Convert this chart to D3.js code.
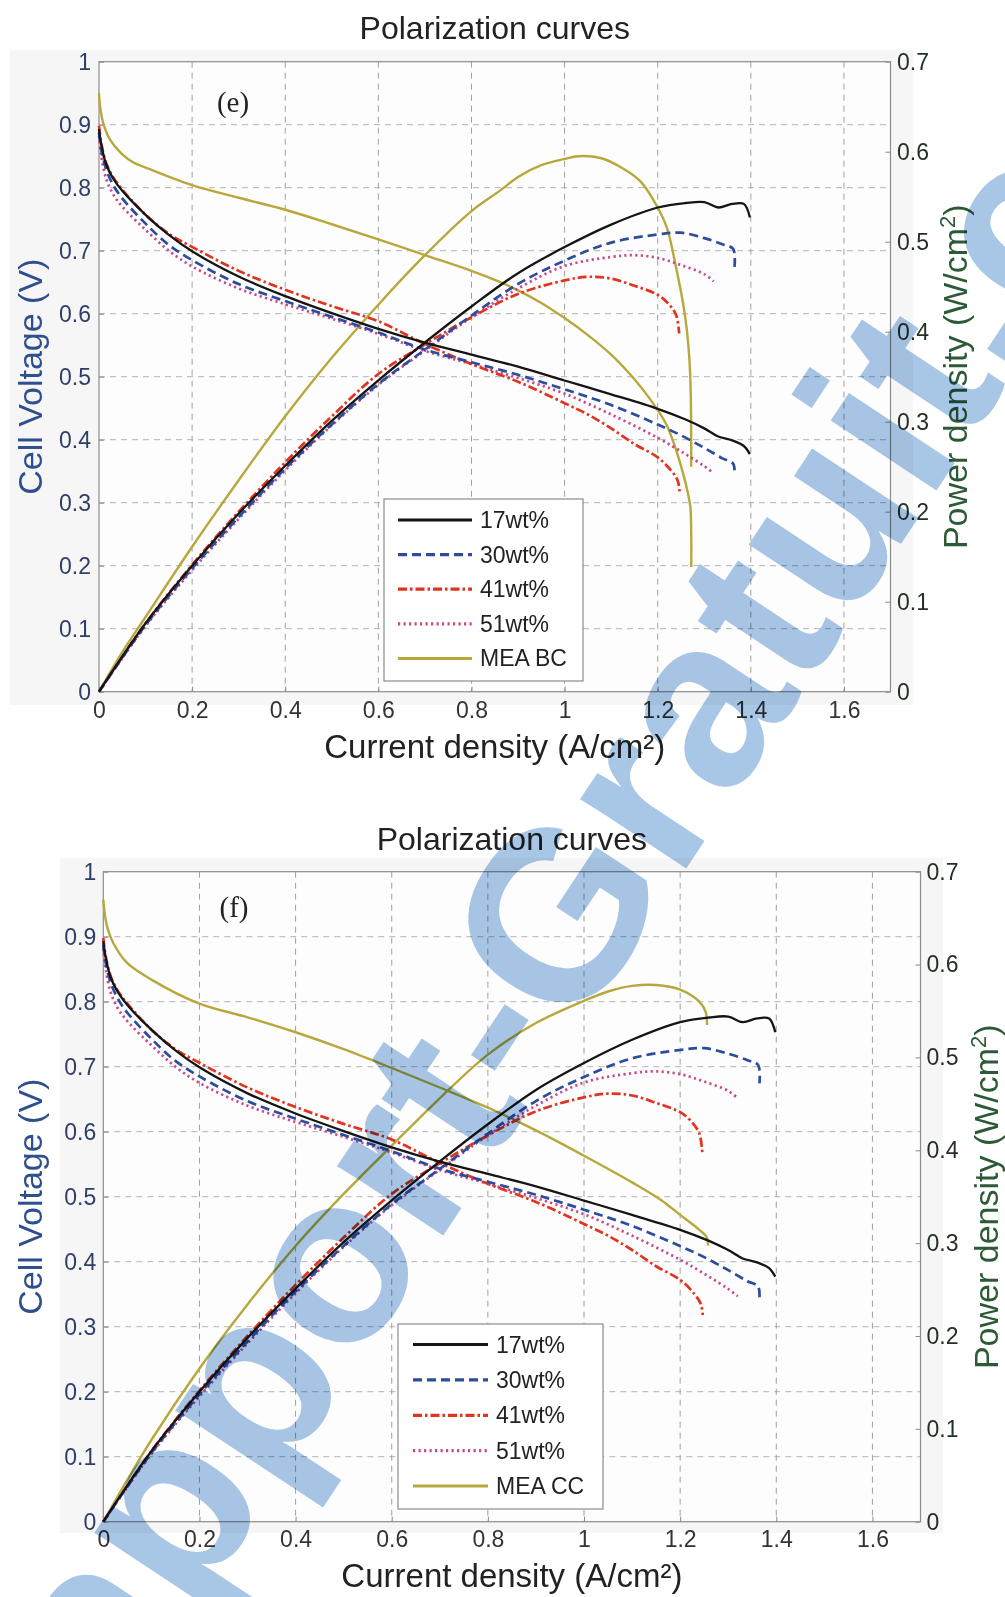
<!DOCTYPE html>
<html>
<head>
<meta charset="utf-8">
<script src="https://cdn.jsdelivr.net/npm/d3@7"></script>
<style>
  html, body { margin: 0; padding: 0; background: #fff; }
  svg { display: block; }
  text { font-family: "Liberation Sans", Arial, sans-serif; }
</style>
</head>
<body>
<svg id="fig" width="1005" height="1597"></svg>
<script>
// ---------- data: [current density (A/cm2), value] ----------
// cell voltage (V)
const wt17V = [[0,0.893],[0.005,0.868],[0.015,0.838],[0.03,0.815],[0.05,0.795],[0.1,0.757],[0.15,0.725],[0.2,0.699],[0.3,0.659],[0.4,0.628],[0.5,0.601],[0.6,0.576],[0.7,0.554],[0.8,0.535],[0.9,0.516],[1.0,0.494],[1.1,0.472],[1.2,0.449],[1.26,0.432],[1.3,0.418],[1.33,0.405],[1.36,0.399],[1.385,0.39],[1.398,0.377]];
const wt30V = [[0,0.887],[0.005,0.86],[0.015,0.83],[0.03,0.805],[0.05,0.783],[0.1,0.743],[0.15,0.709],[0.2,0.685],[0.3,0.647],[0.4,0.62],[0.5,0.595],[0.6,0.57],[0.7,0.543],[0.8,0.523],[0.9,0.503],[1.0,0.48],[1.1,0.455],[1.2,0.424],[1.25,0.407],[1.3,0.387],[1.34,0.37],[1.362,0.362],[1.365,0.345]];
const wt41V = [[0,0.898],[0.005,0.87],[0.015,0.84],[0.03,0.817],[0.05,0.797],[0.1,0.757],[0.15,0.727],[0.2,0.706],[0.3,0.668],[0.4,0.638],[0.5,0.612],[0.6,0.588],[0.7,0.552],[0.8,0.52],[0.9,0.492],[1.0,0.458],[1.05,0.44],[1.1,0.418],[1.15,0.393],[1.2,0.372],[1.23,0.35],[1.243,0.335],[1.247,0.318]];
const wt51V = [[0,0.882],[0.005,0.85],[0.015,0.815],[0.03,0.79],[0.05,0.77],[0.1,0.733],[0.15,0.7],[0.2,0.675],[0.3,0.64],[0.4,0.615],[0.5,0.592],[0.6,0.568],[0.7,0.541],[0.8,0.52],[0.9,0.498],[1.0,0.473],[1.1,0.44],[1.2,0.403],[1.26,0.377],[1.3,0.358],[1.32,0.347]];
const bcV = [[0,0.95],[0.003,0.925],[0.01,0.9],[0.024,0.876],[0.05,0.853],[0.074,0.84],[0.1,0.832],[0.2,0.804],[0.3,0.784],[0.4,0.765],[0.5,0.742],[0.6,0.718],[0.7,0.693],[0.8,0.668],[0.862,0.65],[0.9,0.637],[0.95,0.617],[1.0,0.593],[1.05,0.566],[1.1,0.535],[1.15,0.496],[1.178,0.47],[1.2,0.447],[1.22,0.422],[1.242,0.378],[1.255,0.345],[1.264,0.318],[1.27,0.294],[1.272,0.25],[1.272,0.198]];
const ccV = [[0,0.957],[0.004,0.93],[0.01,0.91],[0.021,0.89],[0.049,0.86],[0.1,0.834],[0.2,0.797],[0.3,0.776],[0.4,0.753],[0.5,0.727],[0.6,0.698],[0.7,0.668],[0.8,0.637],[0.9,0.602],[1.0,0.563],[1.1,0.522],[1.16,0.495],[1.2,0.472],[1.24,0.449],[1.255,0.438],[1.258,0.425]];

// power density (W/cm2)
const wt17P = [[0,0],[0.1,0.076],[0.2,0.14],[0.3,0.198],[0.4,0.251],[0.5,0.301],[0.6,0.346],[0.7,0.388],[0.8,0.428],[0.9,0.465],[1.0,0.494],[1.1,0.519],[1.2,0.538],[1.26,0.543],[1.3,0.544],[1.33,0.538],[1.36,0.542],[1.385,0.542],[1.398,0.527]];
const wt30P = [[0,0],[0.1,0.074],[0.2,0.137],[0.3,0.194],[0.4,0.248],[0.5,0.297],[0.6,0.342],[0.7,0.38],[0.8,0.418],[0.9,0.453],[1.0,0.479],[1.1,0.499],[1.2,0.508],[1.25,0.51],[1.3,0.504],[1.34,0.497],[1.362,0.492],[1.365,0.472]];
const wt41P = [[0,0],[0.1,0.076],[0.2,0.141],[0.3,0.2],[0.4,0.255],[0.5,0.306],[0.6,0.353],[0.7,0.386],[0.8,0.416],[0.9,0.442],[1.0,0.457],[1.05,0.461],[1.1,0.459],[1.15,0.451],[1.2,0.441],[1.225,0.43],[1.24,0.418],[1.246,0.398]];
const wt51P = [[0,0],[0.1,0.073],[0.2,0.135],[0.3,0.192],[0.4,0.246],[0.5,0.296],[0.6,0.341],[0.7,0.379],[0.8,0.416],[0.9,0.448],[1.0,0.473],[1.1,0.483],[1.15,0.485],[1.2,0.482],[1.25,0.474],[1.3,0.464],[1.32,0.456]];
const bcP = [[0,0],[0.05,0.044],[0.1,0.083],[0.2,0.161],[0.3,0.235],[0.4,0.306],[0.5,0.371],[0.6,0.43],[0.7,0.485],[0.8,0.534],[0.862,0.557],[0.9,0.572],[0.95,0.585],[1.0,0.592],[1.03,0.595],[1.077,0.593],[1.12,0.583],[1.163,0.567],[1.2,0.538],[1.22,0.515],[1.24,0.47],[1.255,0.43],[1.263,0.4],[1.268,0.37],[1.271,0.33],[1.272,0.25]];
const ccP = [[0,0],[0.05,0.045],[0.1,0.088],[0.2,0.165],[0.3,0.234],[0.4,0.297],[0.5,0.353],[0.6,0.405],[0.708,0.46],[0.8,0.503],[0.9,0.537],[1.0,0.561],[1.05,0.571],[1.1,0.577],[1.15,0.578],[1.2,0.573],[1.24,0.56],[1.253,0.549],[1.256,0.535]];

const seriesNames = ["17wt%", "30wt%", "41wt%", "51wt%"];
const xTicks = [0, 0.2, 0.4, 0.6, 0.8, 1, 1.2, 1.4, 1.6];
const vTicks = [0, 0.1, 0.2, 0.3, 0.4, 0.5, 0.6, 0.7, 0.8, 0.9, 1];
const pTicks = [0, 0.1, 0.2, 0.3, 0.4, 0.5, 0.6, 0.7];

// ---------- styling ----------
const styleOf = {
  "17wt%": { color: "#151515", dash: null, w: 2.3 },
  "30wt%": { color: "#2b4d9b", dash: "9,5", w: 2.7 },
  "41wt%": { color: "#e1331f", dash: "9,3,2.5,3", w: 2.7 },
  "51wt%": { color: "#c84a8c", dash: "2.2,3.3", w: 2.7 },
  "ref":   { color: "#b8a83c", dash: null, w: 2.4 }
};

const svg = d3.select("#fig");

const panels = [
  {
    tag: "(e)", refName: "MEA BC", refV: bcV, refP: bcP,
    L: 99, R: 890.5, T: 61.7, B: 691.7,
    bg: [10, 50, 913, 705],
    titleY: 39, xLabelY: 758, yLabelX: 42, pLabelX: 967,
    tagX: 233, tagY: 112,
    legend: { x0: 384, x1: 583, y0: 499, y1: 681, lx0: 398, lx1: 472, tx: 480, ry0: 520, dy: 34.6 },
    xPad: 10, lPad: 8, rPad: 6.5
  },
  {
    tag: "(f)", refName: "MEA CC", refV: ccV, refP: ccP,
    L: 103.3, R: 920.5, T: 871.7, B: 1521.7,
    bg: [60, 858, 943, 1533],
    titleY: 850, xLabelY: 1587, yLabelX: 42, pLabelX: 998,
    tagX: 234, tagY: 917,
    legend: { x0: 398, x1: 603, y0: 1324, y1: 1509, lx0: 413, lx1: 488, tx: 496, ry0: 1344.5, dy: 35.4 },
    xPad: 9, lPad: 7, rPad: 6
  }
];

const wtV = [wt17V, wt30V, wt41V, wt51V];
const wtP = [wt17P, wt30P, wt41P, wt51P];

panels.forEach(p => {
  const g = svg.append("g");
  const x = d3.scaleLinear().domain([0, 1.7]).range([p.L, p.R]);
  const yV = d3.scaleLinear().domain([0, 1]).range([p.B, p.T]);
  const yP = d3.scaleLinear().domain([0, 0.7]).range([p.B, p.T]);

  // soft figure background
  g.append("rect").attr("x", p.bg[0]).attr("y", p.bg[1])
    .attr("width", p.bg[2] - p.bg[0]).attr("height", p.bg[3] - p.bg[1])
    .attr("fill", "#f6f6f6");
  g.append("rect").attr("x", p.L).attr("y", p.T)
    .attr("width", p.R - p.L).attr("height", p.B - p.T).attr("fill", "#fdfdfd");

  // grid
  g.append("g").selectAll("line").data(vTicks.slice(1, -1)).join("line")
    .attr("x1", p.L).attr("x2", p.R).attr("y1", d => yV(d)).attr("y2", d => yV(d))
    .attr("stroke", "#b3b3b3").attr("stroke-width", 1).attr("stroke-dasharray", "6,5");
  g.append("g").selectAll("line").data(xTicks.slice(1)).join("line")
    .attr("y1", p.T).attr("y2", p.B).attr("x1", d => x(d)).attr("x2", d => x(d))
    .attr("stroke", "#a0a0a0").attr("stroke-width", 1).attr("stroke-dasharray", "6,5");

  // axes
  const ax = g.append("g").attr("transform", `translate(0,${p.B})`)
    .call(d3.axisBottom(x).tickValues(xTicks).tickSizeInner(-5).tickSizeOuter(0).tickPadding(p.xPad).tickFormat(d => String(d)));
  ax.selectAll("text").attr("fill", "#333").style("font-size", "23px");
  const ay = g.append("g").attr("transform", `translate(${p.L},0)`)
    .call(d3.axisLeft(yV).tickValues(vTicks).tickSizeInner(-5).tickSizeOuter(0).tickPadding(p.lPad).tickFormat(d => String(d)));
  ay.selectAll("text").attr("fill", "#2f3e66").style("font-size", "23px");
  const ar = g.append("g").attr("transform", `translate(${p.R},0)`)
    .call(d3.axisRight(yP).tickValues(pTicks).tickSizeInner(-5).tickSizeOuter(0).tickPadding(p.rPad).tickFormat(d => String(d)));
  ar.selectAll("text").attr("fill", "#243024").style("font-size", "23px");
  [ax, ay, ar].forEach(a => {
    a.select(".domain").remove();
    a.selectAll(".tick line").attr("stroke", "#888");
    a.selectAll("text").style("font-family", '"Liberation Sans", Arial, sans-serif');
  });

  // frame
  g.append("rect").attr("x", p.L).attr("y", p.T)
    .attr("width", p.R - p.L).attr("height", p.B - p.T)
    .attr("fill", "none").attr("stroke", "#8c8c8c").attr("stroke-width", 1.2);

  // curves
  const lineV = d3.line().x(d => x(d[0])).y(d => yV(d[1])).curve(d3.curveCatmullRom.alpha(0.5));
  const lineP = d3.line().x(d => x(d[0])).y(d => yP(d[1])).curve(d3.curveCatmullRom.alpha(0.5));
  const curves = g.append("g").attr("fill", "none").attr("stroke-linejoin", "round");
  const drawSeries = (data, gen, st) => {
    curves.append("path").attr("d", gen(data))
      .attr("stroke", st.color).attr("stroke-width", st.w)
      .attr("stroke-dasharray", st.dash);
  };
  drawSeries(p.refV, lineV, styleOf.ref);
  drawSeries(p.refP, lineP, styleOf.ref);
  for (let i = seriesNames.length - 1; i >= 0; i--) {
    drawSeries(wtV[i], lineV, styleOf[seriesNames[i]]);
    drawSeries(wtP[i], lineP, styleOf[seriesNames[i]]);
  }

  // titles and labels
  g.append("text").attr("x", (p.L + p.R) / 2).attr("y", p.titleY)
    .attr("text-anchor", "middle").attr("fill", "#222").style("font-size", "32px")
    .text("Polarization curves");
  g.append("text").attr("x", (p.L + p.R) / 2).attr("y", p.xLabelY)
    .attr("text-anchor", "middle").attr("fill", "#222").style("font-size", "33px")
    .text("Current density (A/cm²)");
  g.append("text").attr("transform", `translate(${p.yLabelX},${(p.T + p.B) / 2}) rotate(-90)`)
    .attr("text-anchor", "middle").attr("fill", "#2d4f8e").style("font-size", "34px")
    .text("Cell Voltage (V)");
  const pl = g.append("text").attr("transform", `translate(${p.pLabelX},${(p.T + p.B) / 2}) rotate(-90)`)
    .attr("text-anchor", "middle").attr("fill", "#2c5a36").style("font-size", "34px");
  pl.append("tspan").text("Power density (W/cm");
  pl.append("tspan").attr("dy", "-12").style("font-size", "22px").text("2");
  pl.append("tspan").attr("dy", "12").text(")");
  g.append("text").attr("x", p.tagX).attr("y", p.tagY).attr("text-anchor", "middle")
    .style("font-family", '"Liberation Serif", "Times New Roman", serif').style("font-size", "29px")
    .attr("fill", "#222").text(p.tag);

  // legend
  const lg = p.legend;
  g.append("rect").attr("x", lg.x0).attr("y", lg.y0).attr("width", lg.x1 - lg.x0).attr("height", lg.y1 - lg.y0)
    .attr("fill", "#fff").attr("stroke", "#8c8c8c").attr("stroke-width", 1.2);
  const entries = seriesNames.map(n => ({ name: n, st: styleOf[n] })).concat([{ name: p.refName, st: styleOf.ref }]);
  const rows = g.append("g").selectAll("g").data(entries).join("g")
    .attr("transform", (d, i) => `translate(0,${lg.ry0 + i * lg.dy})`);
  rows.append("line").attr("x1", lg.lx0).attr("x2", lg.lx1).attr("y1", 0).attr("y2", 0)
    .attr("stroke", d => d.st.color).attr("stroke-width", d => d.st.w + 0.6)
    .attr("stroke-dasharray", d => d.st.dash);
  rows.append("text").attr("x", lg.tx).attr("y", 0).attr("dy", "0.35em")
    .attr("fill", "#222").style("font-size", "23px").text(d => d.name);
});

// site watermark laid over the page
svg.append("text")
  .attr("transform", "translate(22,1872) rotate(-56.5)")
  .style("font-family", '"Liberation Sans", Arial, sans-serif')
  .style("font-weight", "bold").style("font-size", "240px")
  .style("mix-blend-mode", "multiply")
  .attr("fill", "#a8c6e6")
  .text("Rapport-Gratuit.com");
</script>
</body>
</html>
